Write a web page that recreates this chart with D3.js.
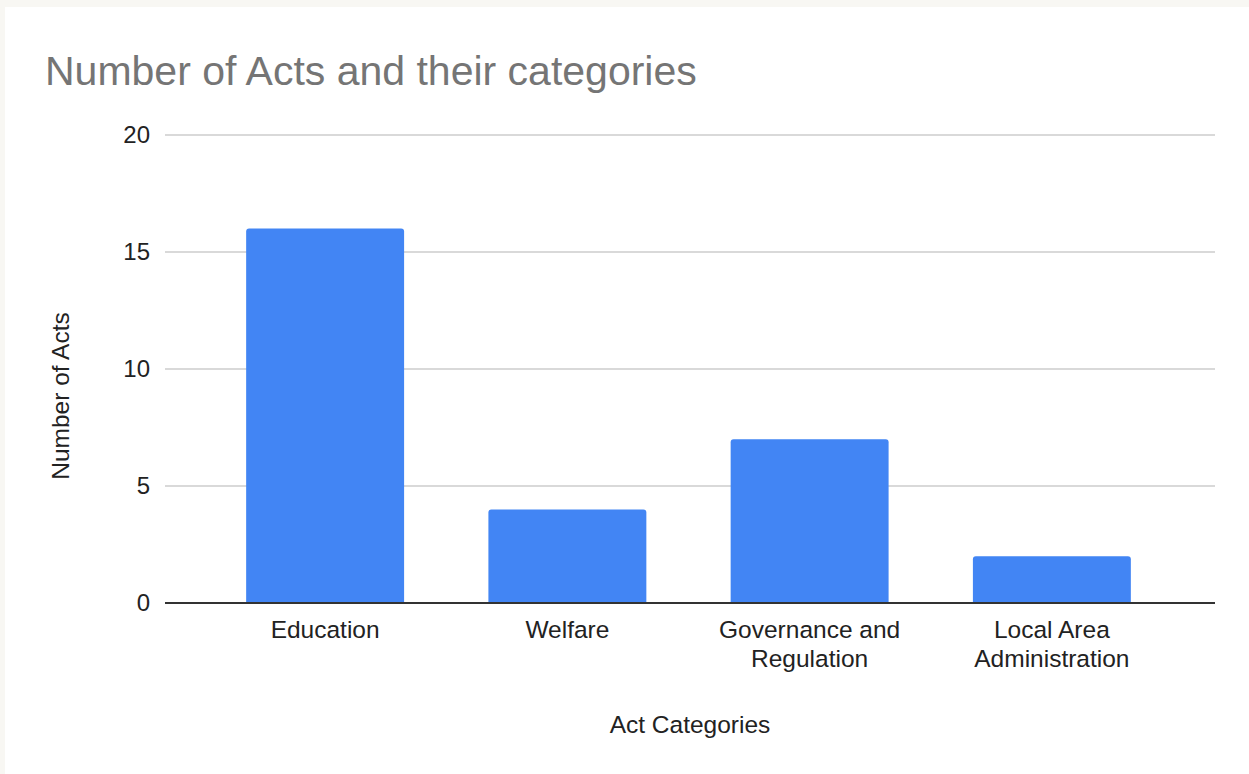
<!DOCTYPE html>
<html>
<head>
<meta charset="utf-8">
<script src="https://cdn.jsdelivr.net/npm/d3@7"></script>
<style>
  html, body { margin: 0; padding: 0; background: #f8f7f3; }
  svg { display: block; font-family: "Liberation Sans", Arial, sans-serif; }
</style>
</head>
<body>
<svg id="chart"></svg>
<script>
const categories = [['Education'], ['Welfare'], ['Governance and', 'Regulation'], ['Local Area', 'Administration']];
const counts = [16, 4, 7, 2];
const yTicks = [0, 5, 10, 15, 20];

const W = 1249, H = 774;
const plot = { left: 165, right: 1215, top: 135, bottom: 603 };

const svg = d3.select('#chart').attr('width', W).attr('height', H);

svg.append('rect')
  .attr('x', 5).attr('y', 7)
  .attr('width', W - 5).attr('height', H - 7)
  .attr('fill', '#ffffff');

const x = d3.scaleBand()
  .domain(d3.range(categories.length))
  .range([204, 1173])
  .paddingInner(0.348)
  .paddingOuter(0.174);

const y = d3.scaleLinear()
  .domain([0, 20])
  .range([plot.bottom, plot.top]);

// gridlines
svg.append('g')
  .selectAll('line')
  .data(yTicks.filter(d => d > 0))
  .enter()
  .append('line')
  .attr('x1', plot.left)
  .attr('x2', plot.right)
  .attr('y1', d => y(d))
  .attr('y2', d => y(d))
  .attr('stroke', '#cccccc')
  .attr('stroke-width', 1.5);

// y tick labels
svg.append('g')
  .selectAll('text')
  .data(yTicks)
  .enter()
  .append('text')
  .attr('x', 150)
  .attr('y', d => y(d))
  .attr('dy', '0.35em')
  .attr('text-anchor', 'end')
  .attr('font-size', 24)
  .attr('fill', '#222')
  .text(d => d);

// bars with slightly rounded tops
const r = 3;
svg.append('g')
  .selectAll('path')
  .data(counts)
  .enter()
  .append('path')
  .attr('fill', '#4285f4')
  .attr('d', (d, i) => {
    const x0 = x(i), x1 = x(i) + x.bandwidth();
    const yt = y(d), yb = y(0);
    return `M${x0},${yb}V${yt + r}Q${x0},${yt} ${x0 + r},${yt}H${x1 - r}Q${x1},${yt} ${x1},${yt + r}V${yb}Z`;
  });

// baseline
svg.append('line')
  .attr('x1', plot.left)
  .attr('x2', plot.right)
  .attr('y1', y(0))
  .attr('y2', y(0))
  .attr('stroke', '#333333')
  .attr('stroke-width', 2);

// category labels
const catLabels = svg.append('g')
  .selectAll('text')
  .data(categories)
  .enter()
  .append('text')
  .attr('x', (d, i) => x(i) + x.bandwidth() / 2)
  .attr('y', 638)
  .attr('text-anchor', 'middle')
  .attr('font-size', 24.5)
  .attr('fill', '#222');

catLabels.selectAll('tspan')
  .data(d => d)
  .enter()
  .append('tspan')
  .attr('x', function () { return d3.select(this.parentNode).attr('x'); })
  .attr('dy', (d, i) => i === 0 ? 0 : 29)
  .text(d => d);

// title
svg.append('text')
  .attr('x', 45)
  .attr('y', 85)
  .attr('font-size', 41)
  .attr('fill', '#757575')
  .text('Number of Acts and their categories');

// axis titles
svg.append('text')
  .attr('x', 690)
  .attr('y', 733)
  .attr('text-anchor', 'middle')
  .attr('font-size', 24.5)
  .attr('fill', '#222')
  .text('Act Categories');

svg.append('text')
  .attr('transform', 'translate(69, 396) rotate(-90)')
  .attr('text-anchor', 'middle')
  .attr('font-size', 24.5)
  .attr('fill', '#222')
  .text('Number of Acts');
</script>
</body>
</html>
